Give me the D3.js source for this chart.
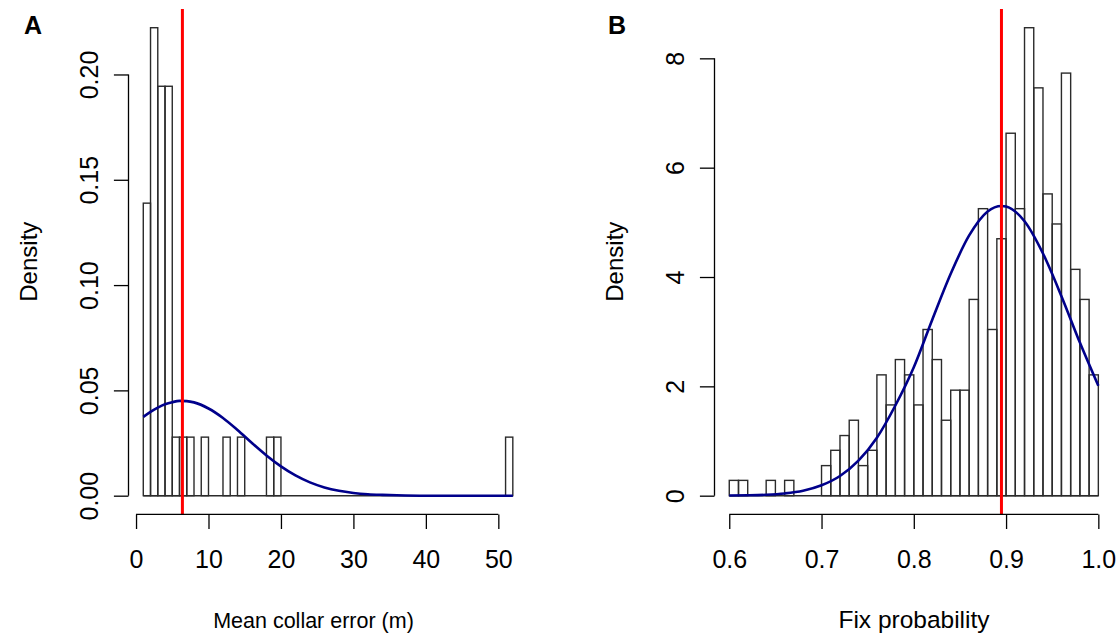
<!DOCTYPE html>
<html>
<head>
<meta charset="utf-8">
<script src="https://cdn.jsdelivr.net/npm/d3@7"></script>
<style>
  body { margin: 0; background: #fff; }
  svg text { font-family: "Liberation Sans", Arial, sans-serif; fill: #000; }
</style>
</head>
<body>
<div id="root"></div>
<script>
// --- панель A: средняя ошибка ошейника (м), ширина корзины 1 м, начиная с 1
const binStartA = 1;
const binWidthA = 1;
const densA = [
  0.1389, 0.2222, 0.1944, 0.1944, 0.0278, 0.0278, 0.0278, 0, 0.0278, 0,
  0, 0.0278, 0, 0.0278, 0, 0, 0, 0.0278, 0.0278, 0,
  0, 0, 0, 0, 0, 0, 0, 0, 0, 0,
  0, 0, 0, 0, 0, 0, 0, 0, 0, 0,
  0, 0, 0, 0, 0, 0, 0, 0, 0, 0,
  0.0278
];
// кривая плотности
const curveXA = [1, 2, 3, 4, 5, 6, 7, 8, 10, 12, 14, 16, 18, 20, 22, 24, 26, 28, 30, 32, 34, 36, 40, 45, 52];
const curveYA = [0.0374, 0.0398, 0.0418, 0.0434, 0.0444, 0.0450, 0.0449, 0.0443, 0.0414, 0.0369, 0.0312,
  0.0250, 0.0191, 0.0139, 0.0096, 0.0063, 0.0039, 0.0023, 0.0013, 0.0007, 0.0004, 0.0002, 0, 0, 0];
const meanA = 6.4;
const xTicksA = [0, 10, 20, 30, 40, 50];
const yTicksA = [0, 0.05, 0.10, 0.15, 0.20];
const yLabelsA = ['0.00', '0.05', '0.10', '0.15', '0.20'];

// --- панель B: вероятность фиксации, ширина корзины 0.01, начиная с 0.6
const binStartB = 0.6;
const binWidthB = 0.01;
const densB = [
  0.28, 0.28, 0, 0, 0.28, 0, 0.28, 0, 0, 0,
  0.55, 0.83, 1.10, 1.38, 0.55, 0.83, 2.21, 1.66, 2.49, 2.21,
  1.66, 3.04, 2.49, 1.38, 1.93, 1.93, 3.59, 5.25, 3.04, 4.70,
  6.63, 5.25, 8.56, 7.46, 5.52, 4.97, 7.73, 4.14, 3.59, 2.21
];
const curveXB = [0.60, 0.62, 0.64, 0.66, 0.68, 0.70, 0.72, 0.74, 0.76, 0.78, 0.80, 0.82, 0.84,
  0.86, 0.88, 0.895, 0.90, 0.92, 0.94, 0.96, 0.98, 1.00];
const curveYB = [0.003, 0.007, 0.017, 0.041, 0.09, 0.19, 0.36, 0.64, 1.06, 1.65, 2.35, 3.22, 4.06,
  4.76, 5.20, 5.30, 5.29, 5.02, 4.43, 3.65, 2.80, 2.01];
const meanB = 0.895;
const xTicksB = [0.6, 0.7, 0.8, 0.9, 1.0];
const yTicksB = [0, 2, 4, 6, 8];
const yLabelsB = ['0', '2', '4', '6', '8'];

// геометрия
const W = 1119, H = 637;
const FS = 25;          // размер шрифта
const TICK = 14.6;

const panels = [
  { tag: 'A', start: binStartA, bw: binWidthA, dens: densA, cx: curveXA, cy: curveYA, mean: meanA,
    xTicks: xTicksA, xFmt: d => String(d), yTicks: yTicksA, yLabels: yLabelsA,
    xTitle: 'Mean collar error (m)', titleFs: 21.5, titleX: 313.5,
    box: { l: 128.5, r: 527.6, t: 9, b: 514.4 }, tagX: 24 },
  { tag: 'B', start: binStartB, bw: binWidthB, dens: densB, cx: curveXB, cy: curveYB, mean: meanB,
    xTicks: xTicksB, xFmt: d => d.toFixed(1), yTicks: yTicksB, yLabels: yLabelsB,
    xTitle: 'Fix probability', titleFs: 24.5, titleX: 914,
    box: { l: 714.5, r: 1113.1, t: 9, b: 514.4 }, tagX: 608 }
];

const svg = d3.select('#root').append('svg')
  .attr('width', W)
  .attr('height', H)
  .attr('xmlns', 'http://www.w3.org/2000/svg');

for (const p of panels) {
  const n = p.dens.length;
  const x0 = p.start, x1 = p.start + n * p.bw;
  const yMax = d3.max(p.dens);
  // как в R: пределы расширены на 4%
  const dx = (x1 - x0) * 0.04, dy = yMax * 0.04;
  const x = d3.scaleLinear().domain([x0 - dx, x1 + dx]).range([p.box.l, p.box.r]);
  const y = d3.scaleLinear().domain([-dy, yMax + dy]).range([p.box.b, p.box.t]);

  const g = svg.append('g');

  // столбцы гистограммы
  g.append('g').selectAll('rect')
    .data(p.dens.map((d, i) => ({ lo: p.start + i * p.bw, hi: p.start + (i + 1) * p.bw, d })))
    .join('rect')
    .attr('x', d => x(d.lo))
    .attr('y', d => y(d.d))
    .attr('width', d => x(d.hi) - x(d.lo))
    .attr('height', d => y(0) - y(d.d))
    .attr('fill', 'none')
    .attr('stroke', '#2b2b2b')
    .attr('stroke-width', 1.4);

  // нижняя линия (пустые корзины)
  g.append('line')
    .attr('x1', x(x0)).attr('x2', x(x1))
    .attr('y1', y(0)).attr('y2', y(0))
    .attr('stroke', '#2b2b2b')
    .attr('stroke-width', 1.4);

  // нормальная кривая
  const line = d3.line().x((d, i) => x(p.cx[i])).y(d => y(d)).curve(d3.curveMonotoneX);
  g.append('path')
    .attr('d', line(p.cy))
    .attr('fill', 'none')
    .attr('stroke', '#00008B')
    .attr('stroke-width', 2.6);

  // среднее
  g.append('line')
    .attr('x1', x(p.mean)).attr('x2', x(p.mean))
    .attr('y1', p.box.t).attr('y2', p.box.b)
    .attr('stroke', '#FF0000')
    .attr('stroke-width', 3);

  // ось X
  const gx = g.append('g')
    .attr('transform', `translate(0,${p.box.b})`)
    .call(d3.axisBottom(x).tickValues(p.xTicks).tickSize(TICK).tickPadding(21).tickFormat(p.xFmt));
  gx.select('.domain').remove();
  gx.append('line')
    .attr('x1', x(p.xTicks[0])).attr('x2', x(p.xTicks[p.xTicks.length - 1]))
    .attr('stroke', '#000').attr('stroke-width', 1.3);
  gx.selectAll('.tick line').attr('stroke', '#000').attr('stroke-width', 1.3);
  gx.selectAll('text').attr('font-size', FS).attr('font-family', null);

  // ось Y
  const gy = g.append('g')
    .attr('transform', `translate(${p.box.l},0)`)
    .call(d3.axisLeft(y).tickValues(p.yTicks).tickSize(TICK).tickFormat((d, i) => p.yLabels[i]));
  gy.select('.domain').remove();
  gy.append('line')
    .attr('y1', y(p.yTicks[0])).attr('y2', y(p.yTicks[p.yTicks.length - 1]))
    .attr('stroke', '#000').attr('stroke-width', 1.3);
  gy.selectAll('.tick line').attr('stroke', '#000').attr('stroke-width', 1.3);
  gy.selectAll('text')
    .attr('font-size', FS)
    .attr('font-family', null)
    .attr('x', 0)
    .attr('dy', 0)
    .attr('text-anchor', 'middle')
    .attr('transform', 'translate(-30.5,0) rotate(-90)');

  // подписи
  g.append('text')
    .attr('x', p.titleX)
    .attr('y', 628)
    .attr('text-anchor', 'middle')
    .attr('font-size', p.titleFs)
    .text(p.xTitle);

  g.append('text')
    .attr('transform', `translate(${p.box.l - 92},${(p.box.t + p.box.b) / 2}) rotate(-90)`)
    .attr('text-anchor', 'middle')
    .attr('font-size', 24)
    .text('Density');

  g.append('text')
    .attr('x', p.tagX)
    .attr('y', 34)
    .attr('font-size', FS)
    .attr('font-weight', 'bold')
    .text(p.tag);
}
</script>
</body>
</html>
